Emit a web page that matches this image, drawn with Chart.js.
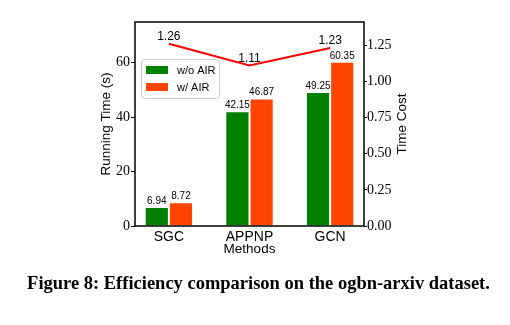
<!DOCTYPE html>
<html>
<head>
<meta charset="utf-8">
<script src="https://cdn.jsdelivr.net/npm/chart.js@4.4.0/dist/chart.umd.min.js"></script>
<style>
body { margin: 0; background: #fff; }
#wrap { width: 510px; height: 325px; position: relative; }
</style>
</head>
<body>
<div id="wrap"><canvas id="grafica"></canvas></div>
<script>
// datos
const metodos = ['SGC', 'APPNP', 'GCN'];
const tiempoSinAIR = [6.94, 42.15, 49.25];
const tiempoConAIR = [8.72, 46.87, 60.35];
const costeTiempo = [1.26, 1.11, 1.23];
const ticksTiempo = [0, 20, 40, 60];
const ticksCoste = [0, 0.25, 0.5, 0.75, 1.0, 1.25];
const etiquetas = ['w/o AIR', 'w/ AIR'];
const tituloDer = 'Time Cost';
const pie = 'Figure 8: Efficiency comparison on the ogbn-arxiv dataset.';

const SANS = '"Liberation Sans", Arial, sans-serif';
const SERIF = '"Liberation Serif", "Times New Roman", serif';

// marco negro alrededor del area de la grafica
const marco = {
    id: 'marco',
    afterDatasetsDraw(chart) {
        const { ctx, chartArea: a } = chart;
        ctx.save();
        ctx.strokeStyle = '#000';
        ctx.lineWidth = 1.5;
        ctx.strokeRect(a.left, a.top, a.right - a.left, a.bottom - a.top);
        ctx.restore();
    }
};

// valores encima de barras y puntos
const valores = {
    id: 'valores',
    afterDatasetsDraw(chart) {
        const ctx = chart.ctx;
        ctx.save();
        ctx.fillStyle = '#000';
        ctx.textAlign = 'center';
        ctx.textBaseline = 'bottom';
        chart.data.datasets.forEach((ds, i) => {
            const meta = chart.getDatasetMeta(i);
            ctx.font = ds.type === 'line' ? '12px ' + SANS : '10px ' + SANS;
            meta.data.forEach((el, j) => {
                const txt = ds.data[j].y.toFixed(2);
                ctx.fillText(txt, el.x, el.y - 1);
            });
        });
        ctx.restore();
    }
};

// leyenda dentro del area y titulo del eje derecho (leido de abajo a arriba)
const leyenda = {
    id: 'leyenda',
    afterDraw(chart) {
        const ctx = chart.ctx;
        const x = 141, y = 59, w = 78, h = 39;
        ctx.save();
        ctx.fillStyle = 'rgba(255,255,255,0.85)';
        ctx.strokeStyle = '#cccccc';
        ctx.lineWidth = 1;
        ctx.beginPath();
        ctx.roundRect(x + 0.5, y + 0.5, w, h, 3);
        ctx.fill();
        ctx.stroke();
        ctx.font = '11px ' + SANS;
        ctx.textBaseline = 'middle';
        ctx.textAlign = 'left';
        [0, 1].forEach(i => {
            const ds = chart.data.datasets[i];
            const py = 66 + i * 17;
            ctx.fillStyle = ds.backgroundColor;
            ctx.fillRect(146, py, 22, 8);
            ctx.fillStyle = '#000';
            ctx.fillText(ds.label, 177, py + 4.5);
        });

        const a = chart.chartArea;
        ctx.translate(402, (a.top + a.bottom) / 2);
        ctx.rotate(-Math.PI / 2);
        ctx.font = '13.5px ' + SANS;
        ctx.textAlign = 'center';
        ctx.textBaseline = 'middle';
        ctx.fillText(tituloDer, 0, 0);
        ctx.restore();
    }
};

// pie de figura, ajustado al ancho
const piePlugin = {
    id: 'pie',
    afterDraw(chart) {
        const ctx = chart.ctx;
        ctx.save();
        let size = 16;
        ctx.font = 'bold ' + size + 'px ' + SERIF;
        const w = ctx.measureText(pie).width;
        size = size * 463 / w;
        ctx.font = 'bold ' + size + 'px ' + SERIF;
        ctx.fillStyle = '#000';
        ctx.textAlign = 'center';
        ctx.textBaseline = 'alphabetic';
        ctx.fillText(pie, 258.5, 289);
        ctx.restore();
    }
};

const ticksFijos = (lista) => (scale) => {
    scale.ticks = lista.map(v => ({ value: v }));
};

const config = {
    type: 'bar',
    data: {
        datasets: [
            {
                label: etiquetas[0],
                data: tiempoSinAIR.map((v, i) => ({ x: i, y: v })),
                backgroundColor: '#008000',
                borderColor: '#ffffff',
                borderWidth: 1,
                categoryPercentage: 0.6,
                barPercentage: 1.0,
                yAxisID: 'y',
                order: 2
            },
            {
                label: etiquetas[1],
                data: tiempoConAIR.map((v, i) => ({ x: i, y: v })),
                backgroundColor: '#FF4500',
                borderColor: '#ffffff',
                borderWidth: 1,
                categoryPercentage: 0.6,
                barPercentage: 1.0,
                yAxisID: 'y',
                order: 2
            },
            {
                type: 'line',
                label: tituloDer,
                data: costeTiempo.map((v, i) => ({ x: i, y: v })),
                borderColor: '#ff0000',
                borderWidth: 2,
                pointRadius: 0,
                tension: 0,
                fill: false,
                yAxisID: 'y1',
                order: 1
            }
        ]
    },
    options: {
        responsive: true,
        maintainAspectRatio: false,
        animation: false,
        layout: { padding: { left: 90, right: 95, top: 22, bottom: 55 } },
        plugins: {
            legend: { display: false },
            tooltip: { enabled: false }
        },
        scales: {
            x: {
                type: 'linear',
                offset: false,
                min: -0.42,
                max: 2.42,
                afterBuildTicks: ticksFijos([0, 1, 2]),
                afterFit: (s) => { s.height = 44; },
                grid: { display: false },
                border: { display: false },
                ticks: {
                    padding: -5,
                    color: '#000',
                    font: { family: SANS, size: 14 },
                    callback: (v) => metodos[v]
                },
                title: {
                    display: true,
                    text: 'Methods',
                    color: '#000',
                    font: { family: SANS, size: 13.5 },
                    padding: { top: 0, bottom: 12.6 }
                }
            },
            y: {
                position: 'left',
                min: 0,
                max: 75,
                afterBuildTicks: ticksFijos(ticksTiempo),
                afterFit: (s) => { s.width = 45; },
                grid: { display: true, drawOnChartArea: false, drawTicks: true, tickLength: 4, color: '#000' },
                border: { display: false },
                ticks: {
                    padding: 1,
                    color: '#000',
                    font: { family: SERIF, size: 14 }
                },
                title: {
                    display: true,
                    text: 'Running Time (s)',
                    color: '#000',
                    font: { family: SANS, size: 13.5 },
                    padding: { top: 8.6, bottom: 0 }
                }
            },
            y1: {
                position: 'right',
                min: 0,
                max: 1.41,
                afterBuildTicks: ticksFijos(ticksCoste),
                afterFit: (s) => { s.width = 51; },
                grid: { display: true, drawOnChartArea: false, drawTicks: true, tickLength: 3, color: '#000' },
                border: { display: false },
                ticks: {
                    padding: 0,
                    color: '#000',
                    font: { family: SERIF, size: 14 },
                    callback: (v) => v.toFixed(2)
                }
            }
        }
    },
    plugins: [marco, valores, leyenda, piePlugin]
};

const ctx = document.getElementById('grafica').getContext('2d');
new Chart(ctx, config);
</script>
</body>
</html>
